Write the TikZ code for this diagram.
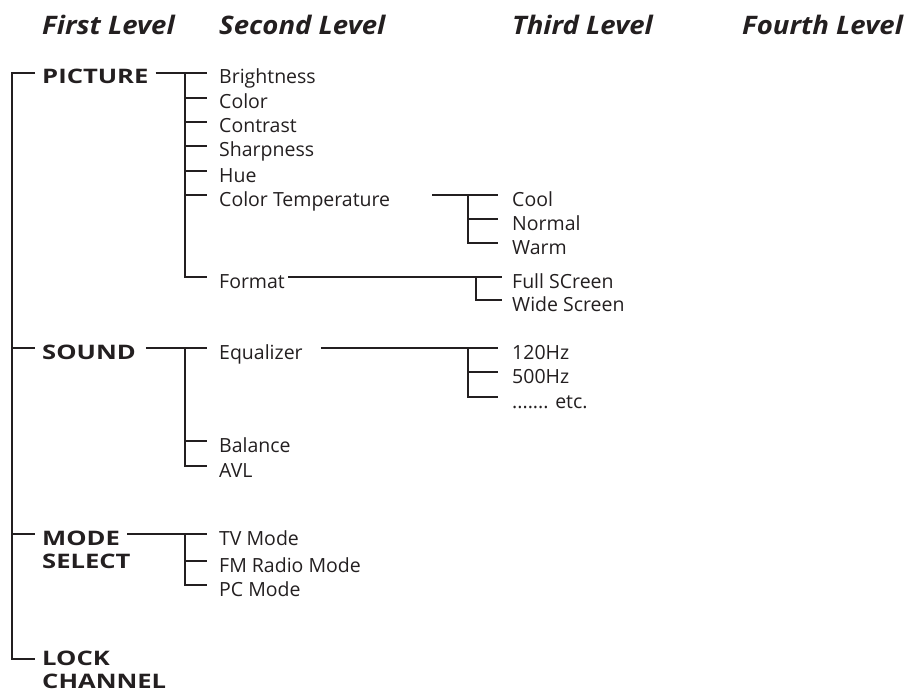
\documentclass[tikz,border=0pt]{standalone}
\usepackage{fontspec}
\setmainfont{Open Sans}
\newfontfamily\wideboldfont[FakeStretch=1.28]{Open Sans}
\newfontfamily\headfont[FakeStretch=1.08]{Open Sans}
\definecolor{ink}{HTML}{231F20}

\begin{document}
\begin{tikzpicture}[x=1bp, y=-1bp,
    every node/.style={text=ink},
    head/.style={anchor=base west, inner sep=0, font=\headfont\fontsize{25.5bp}{28bp}\selectfont\bfseries\itshape},
    lvlone/.style={anchor=west, inner sep=0, text height=22bp, text depth=0pt,
                   font=\wideboldfont\fontsize{20bp}{23bp}\selectfont\bfseries},
    lvlonetwo/.style={anchor=north west, inner sep=0, align=left,
                      font=\wideboldfont\fontsize{20bp}{23bp}\selectfont\bfseries},
    item/.style={anchor=west, inner sep=0, text height=22bp, text depth=0pt,
                 font=\fontsize{19.5bp}{24bp}\selectfont},
    branch/.style={draw=ink, line width=1.2bp}
  ]
  \useasboundingbox (0,0) rectangle (906,692);

  % column headers
  \node[head] (hone) at (42,35) {First Level};
  \node[head] (htwo) at (219,35) {Second Level};
  \node[head] (hthree) at (512,35) {Third Level};
  \node[head] (hfour) at (742,35) {Fourth Level};

  % first level
  \node[lvlone] (pic) at (42,73) {PICTURE};
  \node[lvlone] (snd) at (42,348) {SOUND};
  \node[lvlonetwo] (mode) at (42,531) {MODE\\SELECT};
  \node[lvlonetwo] (lock) at (42,651) {LOCK\\CHANNEL};

  % second level
  \node[item] (bright) at (219,73) {Brightness};
  \node[item] (color) at (219,98) {Color};
  \node[item] (contrast) at (219,122) {Contrast};
  \node[item] (sharp) at (219,146) {Sharpness};
  \node[item] (hue) at (219,171) {Hue};
  \node[item] (ctemp) at (219,195) {Color Temperature};
  \node[item] (format) at (219,277) {Format};
  \node[item] (eq) at (219,348) {Equalizer};
  \node[item] (bal) at (219,441) {Balance};
  \node[item] (avl) at (219,466) {AVL};
  \node[item] (tv) at (219,534) {TV Mode};
  \node[item] (fm) at (219,561) {FM Radio Mode};
  \node[item] (pc) at (219,585) {PC Mode};

  % third level
  \node[item] (cool) at (512,195) {Cool};
  \node[item] (normal) at (512,219) {Normal};
  \node[item] (warm) at (512,243) {Warm};
  \node[item] (full) at (512,277) {Full SCreen};
  \node[item] (wide) at (512,300) {Wide Screen};
  \node[item] (hzlow) at (512,348) {120Hz};
  \node[item] (hzmid) at (512,372) {500Hz};
  \node[item] (etc) at (512,397) {....... etc.};

  % bus points
  \coordinate (trunk) at (12,73);
  \coordinate (picbus) at (185,73);
  \coordinate (sndbus) at (185,348);
  \coordinate (modebus) at (185,534);
  \coordinate (modeout) at (127,534);
  \coordinate (ctbus) at (468,195);
  \coordinate (fmtbus) at (476,277);
  \coordinate (eqbus) at (468,348);
  \coordinate (modeln) at ([yshift=-3bp]mode.north west);
  \coordinate (lockln) at ([yshift=-8bp]lock.north west);

  % root trunk
  \draw[branch] ([xshift=-7bp]pic.west) -- (trunk) -- (trunk |- lockln) -- ([xshift=-7bp]lockln);
  \draw[branch] (trunk |- snd.west) -- ([xshift=-7bp]snd.west);
  \draw[branch] (trunk |- modeln) -- ([xshift=-7bp]modeln);

  % picture
  \draw[branch] ([xshift=7bp]pic.east) -- ([xshift=-12bp]bright.west);
  \draw[branch] (picbus) -- (picbus |- format.west) -- ([xshift=-12bp]format.west);
  \foreach \n in {color,contrast,sharp,hue,ctemp}
    \draw[branch] (picbus |- \n.west) -- ([xshift=-12bp]\n.west);

  \draw[branch] ([xshift=42bp]ctemp.east) -- ([xshift=-14bp]cool.west);
  \draw[branch] (ctbus) -- (ctbus |- warm.west) -- ([xshift=-14bp]warm.west);
  \draw[branch] (ctbus |- normal.west) -- ([xshift=-14bp]normal.west);

  \draw[branch] ([xshift=3bp]format.east) -- ([xshift=-10bp]full.west);
  \draw[branch] (fmtbus) -- (fmtbus |- wide.west) -- ([xshift=-10bp]wide.west);

  % sound
  \draw[branch] ([xshift=10bp]snd.east) -- ([xshift=-12bp]eq.west);
  \draw[branch] (sndbus) -- (sndbus |- avl.west) -- ([xshift=-12bp]avl.west);
  \draw[branch] (sndbus |- bal.west) -- ([xshift=-12bp]bal.west);

  \draw[branch] ([xshift=18bp]eq.east) -- ([xshift=-14bp]hzlow.west);
  \draw[branch] (eqbus) -- (eqbus |- etc.west) -- ([xshift=-14bp]etc.west);
  \draw[branch] (eqbus |- hzmid.west) -- ([xshift=-14bp]hzmid.west);

  % mode select
  \draw[branch] (modeout) -- ([xshift=-12bp]tv.west);
  \draw[branch] (modebus) -- (modebus |- pc.west) -- ([xshift=-12bp]pc.west);
  \draw[branch] (modebus |- fm.west) -- ([xshift=-12bp]fm.west);
\end{tikzpicture}
\end{document}
